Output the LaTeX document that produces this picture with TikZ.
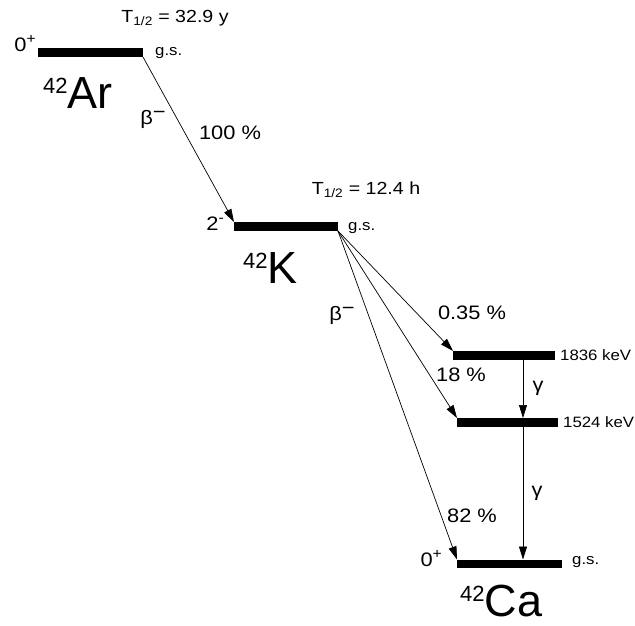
\documentclass[tikz,border=0pt]{standalone}
\usepackage{fontspec}
\setmainfont{Liberation Sans}
\newfontfamily\lblfont{Liberation Sans}[FakeStretch=1.12]
\usetikzlibrary{arrows.meta}
\newcommand{\nuc}[2]{{\fontsize{22}{22}\selectfont\raisebox{15pt}{#1}}{\fontsize{45}{46}\selectfont #2}}
\newcommand{\bminus}{β\raisebox{6pt}{−}}
\newcommand{\spin}[2]{#1\raisebox{8pt}{\fontsize{14}{14}\selectfont #2}}
\begin{document}
\begin{tikzpicture}[x=1pt,y=-1pt,
  lvl/.style={line width=8.5pt},
  trans/.style={line width=0.7pt,-{Triangle[length=13pt,width=8pt]}},
  lab/.style={font=\lblfont\fontsize{19.5}{22}\selectfont, inner sep=0pt},
  half/.style={font=\lblfont\fontsize{17.5}{20}\selectfont, inner sep=0pt},
  small/.style={font=\lblfont\fontsize{15}{17}\selectfont, inner sep=0pt, anchor=west},
  big/.style={inner sep=0pt, anchor=base west}]
\useasboundingbox (0,0) rectangle (635,626);
% levels
\coordinate (arL) at (38,52.5);  \coordinate (arR) at (143,52.5);
\coordinate (kL) at (234,226.5); \coordinate (kR) at (338,226.5);
\coordinate (aL) at (453,355.5); \coordinate (aR) at (555,355.5);
\coordinate (bL) at (457,422.5); \coordinate (bR) at (558,422.5);
\coordinate (gL) at (457,564);   \coordinate (gR) at (562,564);
\draw[lvl] (arL) -- (arR);
\draw[lvl] (kL) -- (kR);
\draw[lvl] (aL) -- (aR);
\draw[lvl] (bL) -- (bR);
\draw[lvl] (gL) -- (gR);
% transition end points
\coordinate (arS) at (143,57);
\coordinate (kT)  at (234,222);
\coordinate (kS)  at (338,231);
\coordinate (aT)  at (453,351);
\coordinate (bT)  at (457,418);
\coordinate (gT)  at (457,559.5);
\coordinate (aB)  at (523,359.5);
\coordinate (bT2) at (523,418);
\coordinate (bB)  at (523,426.5);
\coordinate (gT2) at (523,559.5);
\draw[trans] (arS) -- (kT);
\draw[trans] (kS) -- (aT);
\draw[trans] (kS) -- (bT);
\draw[trans] (kS) -- (gT);
\draw[trans] (aB) -- (bT2);
\draw[trans] (bB) -- (gT2);
% labels
\node[lab, anchor=east] (arsp) at (36,44) {\spin{0}{+}};
\node[half] (arhl) at (175,18) {T\textsubscript{1/2} = 32.9 y};
\node[small] (args) at (155,53) {g.s.};
\node[big] (arn) at (43,108) {\nuc{42}{Ar}};
\node[lab] (arb) at (153,119) {\bminus};
\node[lab] (arp) at (230,133) {100 \%};
\node[lab, anchor=east] (ksp) at (224,224) {\spin{2}{-}};
\node[half] (khl) at (366,190) {T\textsubscript{1/2} = 12.4 h};
\node[small] (kgs) at (348,228) {g.s.};
\node[big] (kn) at (243,283) {\nuc{42}{K}};
\node[lab] (kb) at (342,315) {\bminus};
\node[lab] (pa) at (472,313) {0.35 \%};
\node[small] (ea) at (560,355) {1836 keV};
\node[lab] (pb) at (461,375) {18 \%};
\node[lab] (ga) at (538,388) {γ};
\node[small] (eb) at (563,422) {1524 keV};
\node[lab] (gb) at (537,493) {γ};
\node[lab] (pg) at (472,516) {82 \%};
\node[lab, anchor=east] (gsp) at (442,559) {\spin{0}{+}};
\node[small] (ggs) at (572,562) {g.s.};
\node[big] (cn) at (460,616) {\nuc{42}{Ca}};
\end{tikzpicture}
\end{document}
